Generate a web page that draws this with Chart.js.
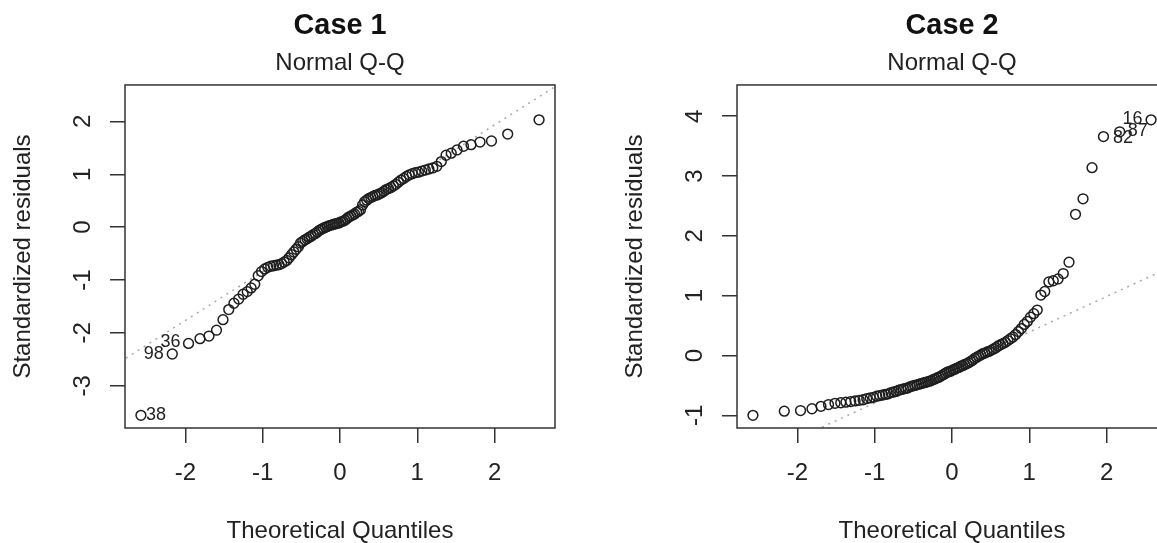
<!DOCTYPE html>
<html lang="en">
<head>
<meta charset="UTF-8">
<title>Normal Q-Q</title>
<script src="https://cdn.jsdelivr.net/npm/chart.js"></script>
<style>
  html, body { margin: 0; padding: 0; overflow: hidden; background: #fff; width: 1157px; height: 543px; }
  canvas { position: absolute; top: 0; }
</style>
</head>
<body>
<canvas id="case1" width="612" height="550" style="left:0px"></canvas>
<canvas id="case2" width="612" height="550" style="left:612px"></canvas>
<script>
// theoretical normal quantiles (n = 100)
const theoretical = [
  -2.5758, -2.1701, -1.9600, -1.8119, -1.6954, -1.5982, -1.5141, -1.4395, -1.3722, -1.3106,
  -1.2536, -1.2004, -1.1503, -1.1031, -1.0581, -1.0152, -0.9741, -0.9346, -0.8965, -0.8596,
  -0.8239, -0.7892, -0.7554, -0.7225, -0.6903, -0.6588, -0.6280, -0.5978, -0.5681, -0.5388,
  -0.5101, -0.4817, -0.4538, -0.4261, -0.3989, -0.3719, -0.3451, -0.3186, -0.2924, -0.2663,
  -0.2404, -0.2147, -0.1891, -0.1637, -0.1383, -0.1130, -0.0878, -0.0627, -0.0376, -0.0125,
  0.0125, 0.0376, 0.0627, 0.0878, 0.1130, 0.1383, 0.1637, 0.1891, 0.2147, 0.2404,
  0.2663, 0.2924, 0.3186, 0.3451, 0.3719, 0.3989, 0.4261, 0.4538, 0.4817, 0.5101,
  0.5388, 0.5681, 0.5978, 0.6280, 0.6588, 0.6903, 0.7225, 0.7554, 0.7892, 0.8239,
  0.8596, 0.8965, 0.9346, 0.9741, 1.0152, 1.0581, 1.1031, 1.1503, 1.2004, 1.2536,
  1.3106, 1.3722, 1.4395, 1.5141, 1.5982, 1.6954, 1.8119, 1.9600, 2.1701, 2.5758
];

const case1Residuals = [
  -3.56, -2.40, -2.20, -2.11, -2.06, -1.95, -1.75, -1.56, -1.44, -1.36,
  -1.27, -1.22, -1.15, -1.08, -0.92, -0.84, -0.79, -0.76, -0.74, -0.73,
  -0.72, -0.71, -0.69, -0.66, -0.63, -0.58, -0.52, -0.47, -0.42, -0.37,
  -0.30, -0.27, -0.24, -0.22, -0.19, -0.17, -0.14, -0.12, -0.09, -0.06,
  -0.04, -0.02, 0.00, 0.01, 0.03, 0.04, 0.05, 0.06, 0.07, 0.08,
  0.10, 0.11, 0.13, 0.16, 0.19, 0.21, 0.23, 0.25, 0.28, 0.30,
  0.33, 0.42, 0.48, 0.51, 0.54, 0.56, 0.58, 0.60, 0.61, 0.63,
  0.65, 0.68, 0.71, 0.73, 0.75, 0.78, 0.81, 0.85, 0.89, 0.92,
  0.96, 0.99, 1.01, 1.03, 1.04, 1.06, 1.08, 1.10, 1.12, 1.15,
  1.24, 1.36, 1.40, 1.46, 1.53, 1.56, 1.61, 1.63, 1.76, 2.03
];

const case2Residuals = [
  -1.00, -0.93, -0.92, -0.89, -0.85, -0.82, -0.80, -0.79, -0.78, -0.77,
  -0.76, -0.75, -0.74, -0.72, -0.71, -0.70, -0.68, -0.67, -0.66, -0.65,
  -0.64, -0.62, -0.61, -0.60, -0.58, -0.57, -0.56, -0.55, -0.54, -0.52,
  -0.51, -0.50, -0.49, -0.48, -0.47, -0.46, -0.45, -0.44, -0.43, -0.42,
  -0.40, -0.39, -0.37, -0.36, -0.34, -0.32, -0.30, -0.28, -0.27, -0.26,
  -0.24, -0.23, -0.21, -0.20, -0.18, -0.17, -0.15, -0.14, -0.12, -0.10,
  -0.08, -0.05, -0.03, -0.01, 0.01, 0.03, 0.04, 0.06, 0.07, 0.09,
  0.11, 0.13, 0.16, 0.18, 0.20, 0.22, 0.25, 0.28, 0.31, 0.35,
  0.40, 0.45, 0.52, 0.57, 0.64, 0.70, 0.76, 1.01, 1.07, 1.23,
  1.25, 1.28, 1.37, 1.56, 2.36, 2.62, 3.14, 3.66, 3.74, 3.94
];

// reference (qqline) ends
const qqLineX = [-3, 3];
const case1LineY = [-2.69, 2.86];
const case2LineY = [-1.98, 1.58];

const xTicks = [-2, -1, 0, 1, 2];
const case1YTicks = [-3, -2, -1, 0, 1, 2];
const case2YTicks = [-1, 0, 1, 2, 3, 4];
const xRange = [-2.782, 2.782];
const case1YRange = [-3.80, 2.69];
const case2YRange = [-1.212, 4.523];

// labelled observations and the point each belongs to
const case1Ids = ['38', '98', '36'];
const case1IdPoint = [0, 1, 2];
const case2Ids = ['16', '87', '82'];
const case2IdPoint = [99, 98, 97];

Chart.defaults.font.family = '"Liberation Sans", Arial, Helvetica, sans-serif';
Chart.defaults.color = '#222';

const INK = '#333';

// box, rotated y tick labels and point ids, drawn like base R
function rLook(ids, idPoint, place) {
    return {
        id: 'rLook',
        afterDraw(chart) {
            const ctx = chart.ctx;
            const a = chart.chartArea;
            const y = chart.scales.y;
            ctx.save();
            ctx.strokeStyle = INK;
            ctx.lineWidth = 1.5;
            ctx.strokeRect(a.left, a.top, a.right - a.left, a.bottom - a.top);

            ctx.fillStyle = '#222';
            ctx.font = '24px ' + Chart.defaults.font.family;
            ctx.textAlign = 'center';
            ctx.textBaseline = 'alphabetic';
            y.ticks.forEach(t => {
                ctx.save();
                ctx.translate(a.left - 35, y.getPixelForValue(t.value));
                ctx.rotate(-Math.PI / 2);
                ctx.fillText(String(t.value), 0, 0);
                ctx.restore();
            });

            const pts = chart.getDatasetMeta(0).data;
            ctx.font = '18px ' + Chart.defaults.font.family;
            ctx.textBaseline = 'middle';
            ids.forEach((txt, i) => {
                const p = pts[idPoint[i]];
                const o = place[i];
                ctx.textAlign = o.align;
                ctx.fillText(txt, p.x + o.dx, p.y + o.dy);
            });
            ctx.restore();
        }
    };
}

function qqChart(canvasId, caseTitle, residuals, lineY, yRange, yTicks, ids, idPoint, place) {
    const ctx = document.getElementById(canvasId).getContext('2d');
    return new Chart(ctx, {
        type: 'scatter',
        data: {
            datasets: [{
                data: theoretical.map((x, i) => ({ x: x, y: residuals[i] })),
                pointStyle: 'circle',
                pointRadius: 4.9,
                pointHoverRadius: 4.9,
                borderColor: '#1e1e1e',
                backgroundColor: 'rgba(0,0,0,0)',
                borderWidth: 1.5
            }, {
                data: qqLineX.map((x, i) => ({ x: x, y: lineY[i] })),
                showLine: true,
                pointRadius: 0,
                borderColor: '#a8a8a8',
                borderWidth: 1.5,
                borderDash: [2, 5],
                fill: false
            }]
        },
        options: {
            responsive: false,
            animation: false,
            devicePixelRatio: 1,
            layout: { padding: { left: 0, right: 57, top: 0, bottom: 0 } },
            plugins: {
                legend: { display: false },
                tooltip: { enabled: false },
                title: {
                    display: true,
                    text: caseTitle,
                    fullSize: false,
                    color: '#111',
                    font: { size: 28.8, weight: 'bold' },
                    padding: { top: 9, bottom: 5.5 }
                },
                subtitle: {
                    display: true,
                    text: 'Normal Q-Q',
                    fullSize: false,
                    color: '#222',
                    font: { size: 24 },
                    padding: { top: 0, bottom: 7.1 }
                }
            },
            scales: {
                x: {
                    type: 'linear',
                    min: xRange[0],
                    max: xRange[1],
                    afterBuildTicks: s => { s.ticks = xTicks.map(v => ({ value: v })); },
                    afterFit: s => { s.height = 122; },
                    border: { display: false },
                    grid: { drawOnChartArea: false, drawTicks: true, tickLength: 15, color: INK, tickColor: INK, lineWidth: 1.5 },
                    ticks: { padding: 16, font: { size: 24 }, color: '#222', maxRotation: 0, autoSkip: false },
                    title: { display: true, text: 'Theoretical Quantiles', font: { size: 24 }, color: '#222', padding: { top: 0, bottom: 4 } }
                },
                y: {
                    type: 'linear',
                    min: yRange[0],
                    max: yRange[1],
                    afterBuildTicks: s => { s.ticks = yTicks.map(v => ({ value: v })); },
                    afterFit: s => { s.width = 125; },
                    border: { display: false },
                    grid: { drawOnChartArea: false, drawTicks: true, tickLength: 15, color: INK, tickColor: INK, lineWidth: 1.5 },
                    ticks: { display: false },
                    title: { display: true, text: 'Standardized residuals', font: { size: 24 }, color: '#222', padding: { top: 9, bottom: 0 } }
                }
            }
        },
        plugins: [rLook(ids, idPoint, place)]
    });
}

qqChart('case1', 'Case 1', case1Residuals, case1LineY, case1YRange, case1YTicks,
    case1Ids, case1IdPoint, [
        { align: 'left', dx: 5, dy: 0 },
        { align: 'right', dx: -8.5, dy: 0 },
        { align: 'right', dx: -8, dy: -1 }
    ]);

qqChart('case2', 'Case 2', case2Residuals, case2LineY, case2YRange, case2YTicks,
    case2Ids, case2IdPoint, [
        { align: 'right', dx: -8.5, dy: -1 },
        { align: 'left', dx: 8, dy: -1 },
        { align: 'left', dx: 9.5, dy: 1.5 }
    ]);
</script>
</body>
</html>
